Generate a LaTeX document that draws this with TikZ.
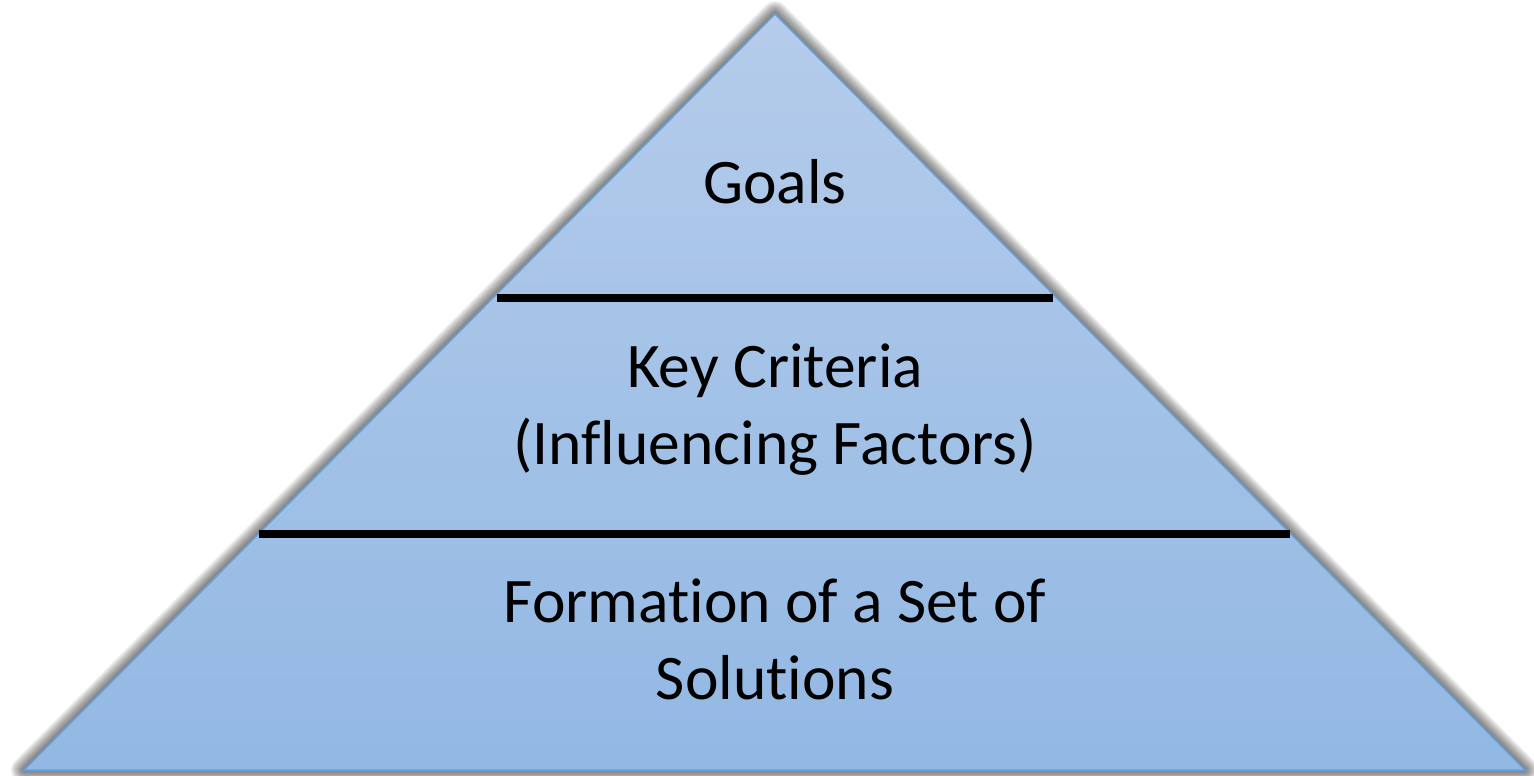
\documentclass[tikz,border=0pt]{standalone}
\usepackage{fontspec}
\setmainfont[Ligatures=NoCommon]{Carlito}
\definecolor{fillTop}{RGB}{181,204,235}
\definecolor{fillBot}{RGB}{146,184,227}
\definecolor{edgeBlue}{RGB}{104,160,216}
\tikzset{
  divider/.style={line width=8pt, black},
  label/.style={font=\fontsize{63.5}{77}\selectfont, align=center, text=black, inner sep=0pt},
}
\begin{document}
\begin{tikzpicture}[x=1pt,y=-1pt]
\useasboundingbox (0,0) rectangle (1534,776);
\coordinate (apex) at (775,14);
\coordinate (bl) at (24,770);
\coordinate (br) at (1525,770);
% soft shadow
\foreach \w in {2,4,...,26} {
  \draw[line width=\w pt, black, opacity=0.05, line join=round, shift={(3,3)}] (apex) -- (bl) -- (br) -- cycle;
}
\fill[white] (apex) -- (bl) -- (br) -- cycle;
\shade[top color=fillTop, bottom color=fillBot] (apex) -- (bl) -- (br) -- cycle;
\draw[edgeBlue, line width=1.5pt, line join=miter] (apex) -- (bl) -- (br) -- cycle;
% dividers
\coordinate (d1l) at (497,298);
\coordinate (d1r) at (1053,298);
\coordinate (d2l) at (259,534);
\coordinate (d2r) at (1290,534);
\draw[divider] (d1l) -- (d1r);
\draw[divider] (d2l) -- (d2r);
% labels
\node[label] (goals) at (775,182) {Goals};
\node[label] (crit) at (775,410) {Key Criteria\\(Influencing Factors)};
\node[label] (form) at (775,639) {Formation of a Set of\\Solutions};
\end{tikzpicture}
\end{document}
